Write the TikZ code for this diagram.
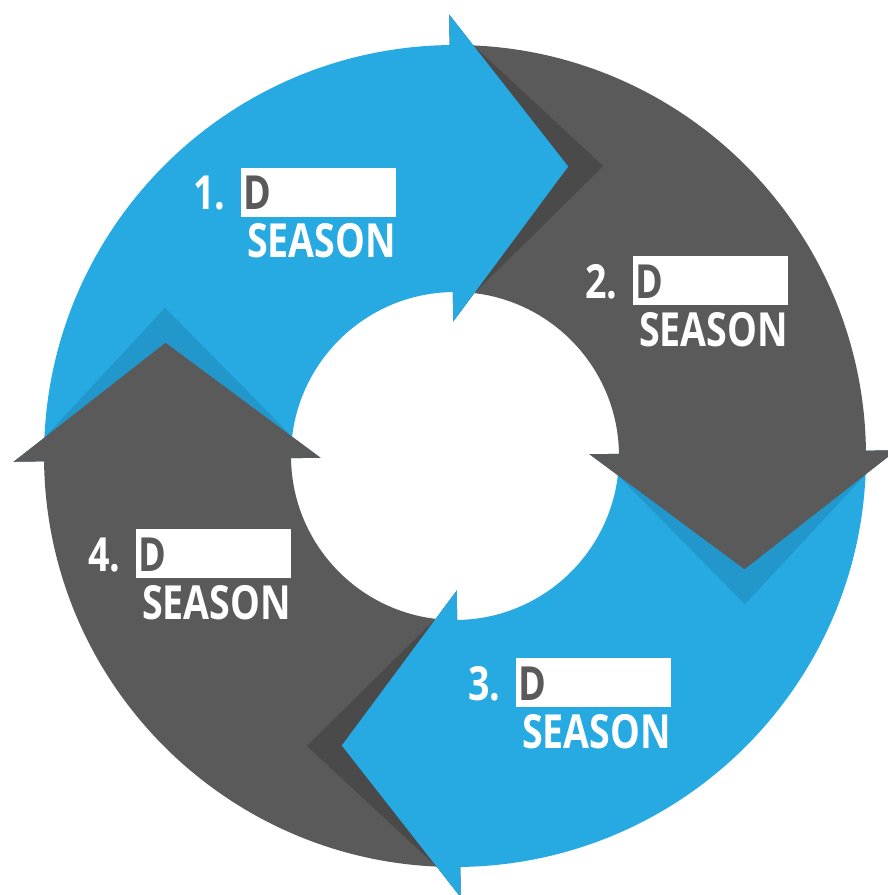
\documentclass[tikz,border=0pt]{standalone}
\usepackage{fontspec}
\newfontfamily\labfont[FakeStretch=0.8]{Open Sans}
\definecolor{cblue}{RGB}{39,169,225}
\definecolor{cbluesh}{RGB}{34,151,204}
\definecolor{cgrey}{RGB}{90,90,90}
\definecolor{cgreysh}{RGB}{74,74,74}
\begin{document}
\begin{tikzpicture}[x=1pt,y=1pt,
  labtext/.style={inner sep=0pt,anchor=base west,font=\labfont\bfseries\fontsize{47}{47}\selectfont},
  numtext/.style={labtext,text=white},
  dtext/.style={labtext,text=cgrey},
  seasontext/.style={labtext,text=white},
  blankbox/.style={fill=white,inner sep=0pt,anchor=north west,minimum width=155pt,minimum height=49pt}]
\useasboundingbox (-455,-439) rectangle (433,456);
\clip (-455,-439) rectangle (433,456);
\begin{scope}[rotate=0.75]
  % ring quadrants
  \fill[cblue] (90:411) arc[start angle=90,end angle=180,radius=411] -- (180:164) arc[start angle=180,end angle=90,radius=164] -- cycle;
  \fill[cgrey] (0:411) arc[start angle=0,end angle=90,radius=411] -- (90:164) arc[start angle=90,end angle=0,radius=164] -- cycle;
  \fill[cblue] (-90:411) arc[start angle=-90,end angle=0,radius=411] -- (0:164) arc[start angle=0,end angle=-90,radius=164] -- cycle;
  \fill[cgrey] (180:411) arc[start angle=180,end angle=270,radius=411] -- (270:164) arc[start angle=270,end angle=180,radius=164] -- cycle;
  % arrowheads with shadows
  \foreach \k/\sh/\fc in {0/cgreysh/cblue,1/cbluesh/cgrey,2/cgreysh/cblue,3/cbluesh/cgrey}{
    \begin{scope}[rotate=-90*\k]
      \fill[\sh] (0,441.5) -- (23.7,410.3) -- (152,288) -- (21.4,162.6) -- (0,134.5) -- cycle;
      \fill[\fc] (0,441.5) -- (117,288) -- (0,134.5) -- (0,164.5) -- (-3,164.5) -- (-3,410.5) -- (0,410.5) -- cycle;
    \end{scope}
  }
\end{scope}
% labels
\node[blankbox] (box1) at (-214,288) {};
\node[blankbox] (box2) at (178,200) {};
\node[blankbox] (box3) at (61,-202) {};
\node[blankbox] (box4) at (-319,-73) {};
\foreach \i in {1,2,3,4}{
  \node[numtext] (num\i) at ([xshift=-48pt,yshift=-42pt]box\i.north west) {\i.};
  \node[dtext] (d\i) at ([xshift=2pt,yshift=-42pt]box\i.north west) {D};
  \node[seasontext] (season\i) at ([xshift=6pt,yshift=-90pt]box\i.north west) {SEASON};
}
\end{tikzpicture}
\end{document}
